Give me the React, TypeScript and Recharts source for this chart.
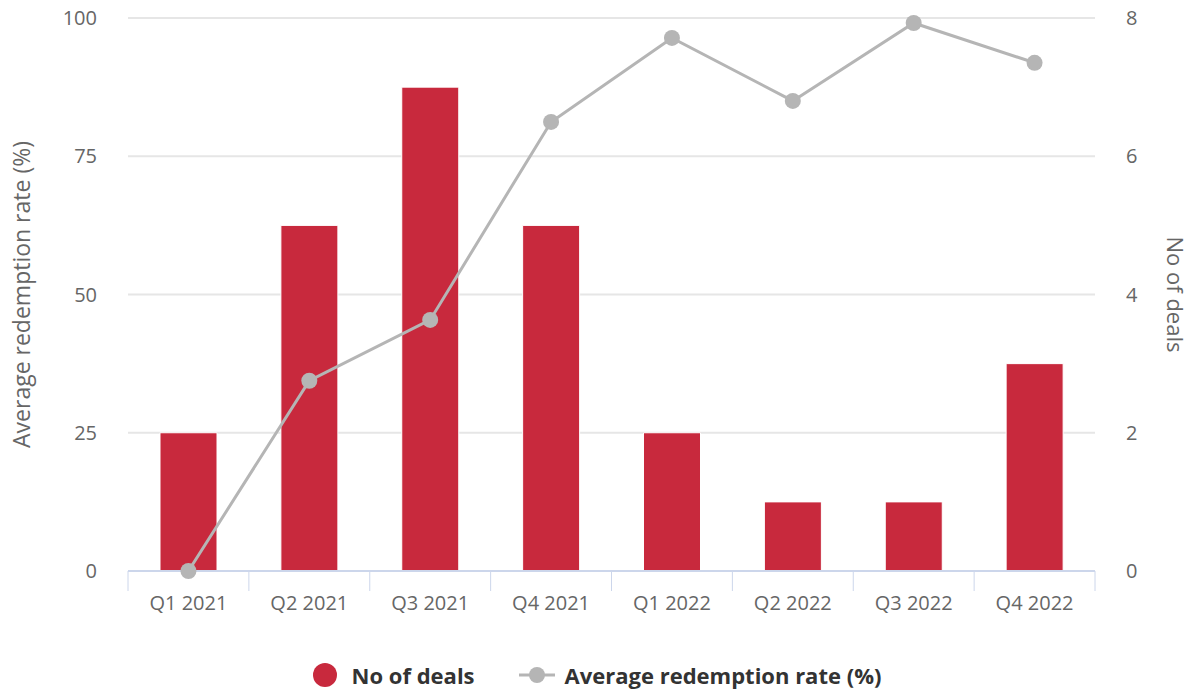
import { ComposedChart, Bar, Line, XAxis, YAxis, CartesianGrid, Legend } from 'recharts';

// Quarters shown on the x axis
const quarters = ['Q1 2021', 'Q2 2021', 'Q3 2021', 'Q4 2021', 'Q1 2022', 'Q2 2022', 'Q3 2022', 'Q4 2022'];
// Number of deals per quarter (right axis)
const dealCounts = [2, 5, 7, 5, 2, 1, 1, 3];
// Average redemption rate in % (left axis)
const redemptionRates = [0, 34.4, 45.4, 81.2, 96.4, 85.0, 99.1, 91.9];

const rateTicks = [0, 25, 50, 75, 100];
const dealTicks = [0, 2, 4, 6, 8];

const BAR_COLOR = '#c8293d';
const LINE_COLOR = '#b5b5b5';
const AXIS_COLOR = '#ccd6eb';
const FONT = '"Open Sans", sans-serif';

const data = quarters.map((q, i) => ({
  quarter: q,
  deals: dealCounts[i],
  rate: redemptionRates[i],
}));

// x tick with tick marks on the category boundaries
const QuarterTick = (props: any) => {
  const { x, y, payload, index } = props;
  const half = payload?.offset ?? 60.4;
  const isLast = index === quarters.length - 1;
  return (
    <g>
      <line x1={x - half} y1={y} x2={x - half} y2={y + 20} stroke={AXIS_COLOR} strokeWidth={1} />
      {isLast && <line x1={x + half} y1={y} x2={x + half} y2={y + 20} stroke={AXIS_COLOR} strokeWidth={1} />}
      <text x={x} y={y} dy={39} textAnchor="middle" fill="#666" fontSize={20} fontFamily={FONT}>
        {payload.value}
      </text>
    </g>
  );
};

const LegendContent = () => (
  <div
    style={{
      display: 'flex',
      justifyContent: 'center',
      alignItems: 'center',
      height: 40,
      fontFamily: FONT,
      fontWeight: 700,
      fontSize: 22,
      color: '#333',
    }}
  >
    <svg width={26} height={26} style={{ marginRight: 14 }}>
      <circle cx={13} cy={13} r={12} fill={BAR_COLOR} />
    </svg>
    <span>No of deals</span>
    <svg width={36} height={20} style={{ marginLeft: 44, marginRight: 10 }}>
      <line x1={0} y1={10} x2={36} y2={10} stroke={LINE_COLOR} strokeWidth={3} />
      <circle cx={18} cy={10} r={8} fill={LINE_COLOR} />
    </svg>
    <span>Average redemption rate (%)</span>
  </div>
);

const App = () => {
  return (
    <div style={{ position: 'absolute', left: 0, top: 0, width: 1193, height: 690, background: '#fff' }}>
      <ComposedChart width={1193} height={690} data={data} margin={{ top: 18, right: 0, bottom: 0, left: 0 }}>
        <CartesianGrid yAxisId="rate" vertical={false} stroke="#e6e6e6" strokeWidth={2} />
        <XAxis
          dataKey="quarter"
          height={79}
          axisLine={{ stroke: AXIS_COLOR, strokeWidth: 2 }}
          tickLine={false}
          tickSize={0}
          tickMargin={0}
          tick={<QuarterTick />}
          interval={0}
        />
        <YAxis
          yAxisId="rate"
          orientation="left"
          width={128}
          domain={[0, 100]}
          ticks={rateTicks}
          axisLine={false}
          tickLine={false}
          tickSize={0}
          tickMargin={31}
          tick={{ fill: '#666', fontSize: 20, fontFamily: FONT }}
          label={{
            value: 'Average redemption rate (%)',
            angle: -90,
            position: 'insideLeft',
            offset: 22,
            style: { textAnchor: 'middle', fill: '#666', fontSize: 23, fontFamily: FONT },
          }}
        />
        <YAxis
          yAxisId="deals"
          orientation="right"
          width={98}
          domain={[0, 8]}
          ticks={dealTicks}
          axisLine={false}
          tickLine={false}
          tickSize={0}
          tickMargin={31}
          tick={{ fill: '#666', fontSize: 20, fontFamily: FONT }}
          label={{
            value: 'No of deals',
            angle: 90,
            position: 'insideRight',
            offset: 18,
            style: { textAnchor: 'middle', fill: '#666', fontSize: 22, fontFamily: FONT },
          }}
        />
        <Legend verticalAlign="bottom" height={40} content={<LegendContent />} wrapperStyle={{ bottom: -5 }} />
        <Bar
          yAxisId="deals"
          dataKey="deals"
          name="No of deals"
          fill={BAR_COLOR}
          stroke="#fff"
          strokeWidth={1}
          barSize={57}
          isAnimationActive={false}
        />
        <Line
          yAxisId="rate"
          dataKey="rate"
          name="Average redemption rate (%)"
          stroke={LINE_COLOR}
          strokeWidth={3}
          dot={{ r: 8, fill: LINE_COLOR, stroke: 'none' }}
          activeDot={false}
          isAnimationActive={false}
        />
      </ComposedChart>
    </div>
  );
};

export default App;
